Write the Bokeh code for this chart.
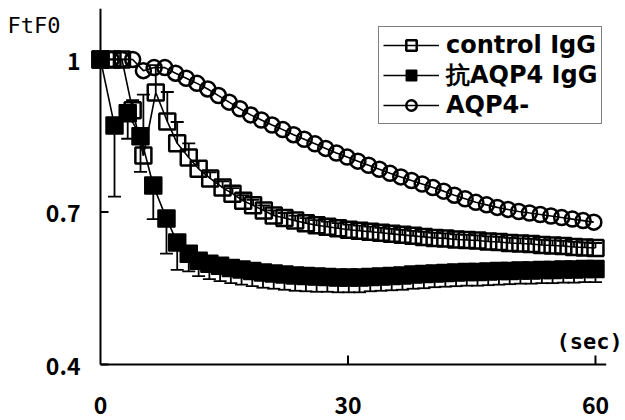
import math
from bokeh.plotting import figure
from bokeh.models import (Range1d, Legend, LegendItem, Whisker, TeeHead,
                          ColumnDataSource, Label)
from bokeh.embed import file_html
from bokeh.resources import INLINE

# ---------------- data ----------------
ctrl_t = [0, 1.45, 2.6, 3.9, 5.2, 6.7, 8.1, 9.3, 10.7, 11.9, 13.3, 14.8, 16.0, 17.3,
          18.5, 19.8, 21.0, 22.3, 23.6, 24.9, 26.2, 27.5, 28.8, 30.1, 31.4, 32.7,
          34.0, 35.3, 36.6, 37.9, 39.2, 40.5, 41.8, 43.1, 44.4, 45.7, 47.0, 48.3,
          49.6, 50.9, 52.2, 53.5, 54.8, 56.1, 57.4, 58.7, 60.0]
ctrl_v = [1.0, 1.0, 1.0, 0.90, 0.811, 0.935, 0.878, 0.835, 0.807, 0.785, 0.766, 0.748,
          0.736, 0.722, 0.713, 0.703, 0.693, 0.688, 0.683, 0.678, 0.674, 0.671, 0.668,
          0.665, 0.663, 0.661, 0.659, 0.657, 0.655, 0.653, 0.651, 0.649, 0.648, 0.646,
          0.645, 0.644, 0.642, 0.641, 0.639, 0.638, 0.637, 0.635, 0.634, 0.633, 0.631,
          0.630, 0.629]
ctrl_err = [0, 0, 0, 0.02, 0.12, 0.054, 0.058, 0.042, 0.028, 0.015, 0.012, 0.012,
            0.011, 0.011, 0.011, 0.010, 0.010, 0.010, 0.010, 0.010, 0.010, 0.010,
            0.010, 0.010, 0.010, 0.010, 0.010, 0.010, 0.010, 0.010, 0.010, 0.010,
            0.010, 0.010, 0.010, 0.010, 0.010, 0.010, 0.010, 0.010, 0.010, 0.010,
            0.010, 0.010, 0.010, 0.010, 0.010]

anti_t = [0, 1.7, 3.3, 4.85, 6.4, 8.0, 9.3, 10.7, 11.9, 13.2, 14.5, 15.8, 17.1, 18.4,
          19.7, 21.0, 22.3, 23.6, 24.9, 26.2, 27.5, 28.8, 30.1, 31.4, 32.7, 34.0,
          35.3, 36.6, 37.9, 39.2, 40.5, 41.8, 43.1, 44.4, 45.7, 47.0, 48.3, 49.6,
          50.9, 52.2, 53.5, 54.8, 56.1, 57.4, 58.7, 60.0]
anti_v = [1.0, 0.870, 0.894, 0.849, 0.752, 0.687, 0.640, 0.618, 0.604, 0.598, 0.594,
          0.590, 0.587, 0.584, 0.581, 0.579, 0.577, 0.575, 0.574, 0.573, 0.572, 0.571,
          0.571, 0.571, 0.572, 0.573, 0.574, 0.575, 0.577, 0.578, 0.579, 0.580, 0.581,
          0.582, 0.582, 0.583, 0.584, 0.584, 0.585, 0.585, 0.586, 0.586, 0.587, 0.587,
          0.588, 0.588]
anti_err = [0, 0.14, 0.05, 0.07, 0.066, 0.069, 0.054, 0.035, 0.030, 0.030, 0.030,
            0.030, 0.030, 0.030, 0.030, 0.030, 0.030, 0.030, 0.030, 0.030, 0.029,
            0.029, 0.029, 0.029, 0.028, 0.028, 0.028, 0.028, 0.028, 0.028, 0.027,
            0.027, 0.027, 0.027, 0.027, 0.027, 0.027, 0.026, 0.026, 0.026, 0.026,
            0.026, 0.026, 0.026, 0.026, 0.026]

neg_t = [0, 1.3, 2.6, 3.9, 5.2, 6.5, 7.8, 9.1, 10.4, 11.7, 13.0, 14.3, 15.6, 16.9,
         18.2, 19.5, 20.8, 22.1, 23.4, 24.7, 26.0, 27.3, 28.6, 29.9, 31.2, 32.5, 33.8,
         35.1, 36.4, 37.7, 39.0, 40.3, 41.6, 42.9, 44.2, 45.5, 46.8, 48.1, 49.4, 50.7,
         52.0, 53.3, 54.6, 55.9, 57.2, 58.5, 59.8]
neg_v = [1.0, 1.0, 1.0, 1.0, 0.978, 0.984, 0.984, 0.973, 0.963, 0.953, 0.942, 0.929,
         0.916, 0.903, 0.891, 0.881, 0.871, 0.862, 0.852, 0.843, 0.834, 0.825, 0.816,
         0.808, 0.800, 0.792, 0.784, 0.776, 0.769, 0.762, 0.755, 0.748, 0.741, 0.733,
         0.726, 0.719, 0.714, 0.709, 0.705, 0.701, 0.698, 0.695, 0.692, 0.689, 0.686,
         0.683, 0.680]

x_ticks = [0, 30, 60]
x_tick_labels = ["0", "30", "60"]
y_ticks = [0.4, 0.7, 1.0]
y_tick_labels = ["0.4", "0.7", "1"]
series_names = ["control IgG", "抗AQP4 IgG", "AQP4-"]

# axis extents (data units)
X_MIN, X_MAX = 0.0, 61.3
Y_MIN, Y_MAX = 0.4, 1.1

# ---------------- figure (frame fills the whole canvas) ----------------
p = figure(width=625, height=420, output_backend="svg", toolbar_location=None,
           x_range=Range1d(-12.12, 63.64), y_range=Range1d(0.2898, 1.116),
           x_axis_location=None, y_axis_location=None,
           min_border=0, min_border_left=0, min_border_right=0,
           min_border_top=0, min_border_bottom=0)
p.outline_line_color = None
p.xgrid.visible = False
p.ygrid.visible = False
p.background_fill_color = "white"

TICK_FONT = "Noto Sans CJK JP"

# axis lines
p.segment(x0=[X_MIN], y0=[Y_MIN], x1=[X_MAX], y1=[Y_MIN], line_color="black", line_width=2)
p.segment(x0=[X_MIN], y0=[Y_MIN], x1=[X_MIN], y1=[Y_MAX], line_color="black", line_width=2)
# ticks (inward)
p.ray(x=x_ticks[1:], y=[Y_MIN] * (len(x_ticks) - 1), length=9, angle=math.pi / 2,
      length_units="screen", line_color="black", line_width=2)
p.ray(x=[X_MIN] * len(y_ticks), y=y_ticks, length=8, angle=0,
      length_units="screen", line_color="black", line_width=2)
# tick labels
p.text(x=x_ticks, y=[Y_MIN] * len(x_ticks), text=x_tick_labels, y_offset=41,
       text_align="center", text_baseline="middle", text_font={"value": TICK_FONT},
       text_font_style="bold", text_font_size="23px", text_color="black")
p.text(x=[X_MIN] * len(y_ticks), y=y_ticks, text=y_tick_labels, x_offset=-20, y_offset=2,
       text_align="right", text_baseline="middle", text_font={"value": TICK_FONT},
       text_font_style="bold", text_font_size="23px", text_color="black")

# ---------------- error bars ----------------
ctrl_src = ColumnDataSource(dict(t=ctrl_t, v=ctrl_v,
                                 up=[v + e for v, e in zip(ctrl_v, ctrl_err)]))
anti_src = ColumnDataSource(dict(t=anti_t, v=anti_v,
                                 lo=[v - e for v, e in zip(anti_v, anti_err)]))
neg_src = ColumnDataSource(dict(t=neg_t, v=neg_v))

p.add_layout(Whisker(source=ctrl_src, base="t", lower="v", upper="up",
                     line_color="black", line_width=1.8,
                     upper_head=TeeHead(size=13, line_width=1.8, line_color="black"),
                     lower_head=None, level="glyph"))
p.add_layout(Whisker(source=anti_src, base="t", lower="lo", upper="v",
                     line_color="black", line_width=1.8,
                     lower_head=TeeHead(size=13, line_width=1.8, line_color="black"),
                     upper_head=None, level="glyph"))

# ---------------- series ----------------
l_ctrl = p.line("t", "v", source=ctrl_src, line_color="black", line_width=1.6)
s_ctrl = p.scatter("t", "v", source=ctrl_src, marker="square", size=16,
                   line_color="black", line_width=2.5, fill_color=None)
l_anti = p.line("t", "v", source=anti_src, line_color="black", line_width=1.6)
s_anti = p.scatter("t", "v", source=anti_src, marker="square", size=17,
                   line_color="black", line_width=1.5, fill_color="black")
l_neg = p.line("t", "v", source=neg_src, line_color="black", line_width=1.6)
s_neg = p.scatter("t", "v", source=neg_src, marker="circle", size=15,
                  line_color="black", line_width=2.5, fill_color=None)

legend = Legend(items=[
    LegendItem(label=series_names[0], renderers=[l_ctrl, s_ctrl]),
    LegendItem(label=series_names[1], renderers=[l_anti, s_anti]),
    LegendItem(label=series_names[2], renderers=[l_neg, s_neg]),
], location=(378, 296))
legend.label_text_font = "DejaVu Sans"
legend.label_text_font_style = "bold"
legend.label_text_font_size = "24px"
legend.label_text_color = "black"
legend.glyph_width = 56
legend.glyph_height = 26
legend.label_standoff = 7
legend.spacing = 0
legend.padding = 4
legend.margin = 0
legend.border_line_color = "black"
legend.border_line_width = 1.6
legend.background_fill_color = "white"
legend.background_fill_alpha = 1.0
p.add_layout(legend, "center")

p.add_layout(Label(x=7, y=408, x_units="screen", y_units="screen", text="FtF0",
                   text_font="DejaVu Sans Mono", text_font_size="22px",
                   text_baseline="top", text_color="black"))
p.add_layout(Label(x=556, y=92, x_units="screen", y_units="screen", text="(sec)",
                   text_font="DejaVu Sans Mono", text_font_style="bold",
                   text_font_size="22px", text_baseline="top", text_color="black"))

open("out.html", "w").write(file_html(p, INLINE))
